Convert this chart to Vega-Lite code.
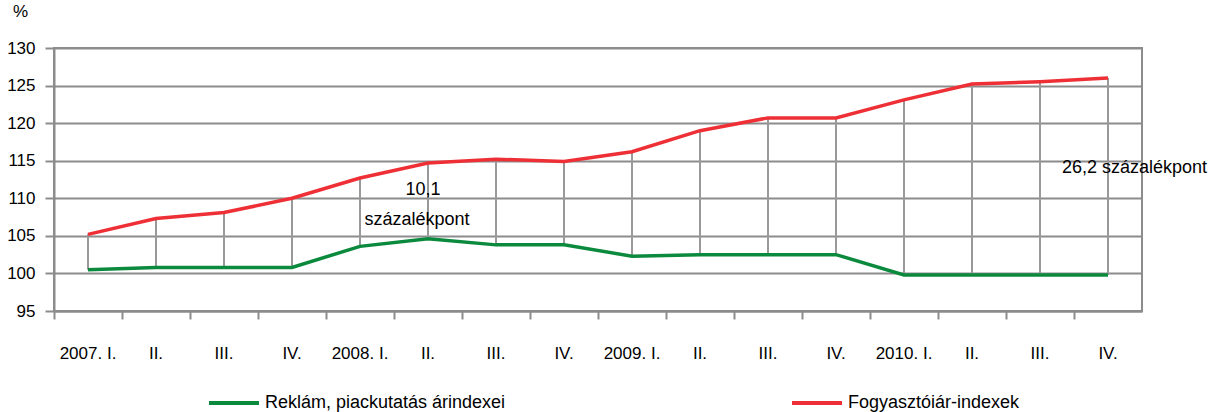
{
  "$schema": "https://vega.github.io/schema/vega-lite/v6.json",
  "width": 1088,
  "height": 263,
  "autosize": {"type": "none"},
  "padding": {"left": 54, "top": 48, "right": 70, "bottom": 101},
  "background": "white",
  "config": {
    "font": "Liberation Sans",
    "view": {"stroke": "#8c8c8c", "strokeWidth": 2},
    "axis": {"labelFont": "Liberation Sans", "titleFont": "Liberation Sans"},
    "axisY": {
      "labelOverlap": false,
      "titleAngle": 0,
      "titleFontSize": 17,
      "titleFontWeight": "normal",
      "titleColor": "#000000",
      "titleX": -34,
      "titleY": -28,
      "titleAlign": "center",
      "labelFontSize": 17,
      "labelColor": "#000000",
      "labelPadding": 10,
      "tickSize": 9,
      "tickColor": "#8c8c8c",
      "tickWidth": 2,
      "domainColor": "#8c8c8c",
      "domainWidth": 2,
      "grid": true,
      "gridColor": "#8c8c8c",
      "gridWidth": 2
    },
    "legend": {"labelFont": "Liberation Sans", "padding": 0}
  },
  "data": {
    "values": [
      {"negyedev": "2007. I.", "Reklám, piackutatás árindexei": 100.5, "Fogyasztóiár-indexek": 105.2},
      {"negyedev": "2007. II.", "Reklám, piackutatás árindexei": 100.8, "Fogyasztóiár-indexek": 107.3},
      {"negyedev": "2007. III.", "Reklám, piackutatás árindexei": 100.8, "Fogyasztóiár-indexek": 108.1},
      {"negyedev": "2007. IV.", "Reklám, piackutatás árindexei": 100.8, "Fogyasztóiár-indexek": 110.0},
      {"negyedev": "2008. I.", "Reklám, piackutatás árindexei": 103.6, "Fogyasztóiár-indexek": 112.7},
      {"negyedev": "2008. II.", "Reklám, piackutatás árindexei": 104.6, "Fogyasztóiár-indexek": 114.7},
      {"negyedev": "2008. III.", "Reklám, piackutatás árindexei": 103.8, "Fogyasztóiár-indexek": 115.2},
      {"negyedev": "2008. IV.", "Reklám, piackutatás árindexei": 103.8, "Fogyasztóiár-indexek": 114.9},
      {"negyedev": "2009. I.", "Reklám, piackutatás árindexei": 102.3, "Fogyasztóiár-indexek": 116.2},
      {"negyedev": "2009. II.", "Reklám, piackutatás árindexei": 102.5, "Fogyasztóiár-indexek": 119.0},
      {"negyedev": "2009. III.", "Reklám, piackutatás árindexei": 102.5, "Fogyasztóiár-indexek": 120.7},
      {"negyedev": "2009. IV.", "Reklám, piackutatás árindexei": 102.5, "Fogyasztóiár-indexek": 120.7},
      {"negyedev": "2010. I.", "Reklám, piackutatás árindexei": 99.8, "Fogyasztóiár-indexek": 123.1},
      {"negyedev": "2010. II.", "Reklám, piackutatás árindexei": 99.8, "Fogyasztóiár-indexek": 125.2},
      {"negyedev": "2010. III.", "Reklám, piackutatás árindexei": 99.8, "Fogyasztóiár-indexek": 125.5},
      {"negyedev": "2010. IV.", "Reklám, piackutatás árindexei": 99.8, "Fogyasztóiár-indexek": 126.0}
    ]
  },
  "encoding": {
    "x": {
      "field": "negyedev",
      "type": "ordinal",
      "sort": null,
      "scale": {"paddingInner": 0, "paddingOuter": 0},
      "axis": {
        "title": null,
        "labelAngle": 0,
        "labelExpr": "indexof(datum.label, '. I.') >= 0 ? datum.label : split(datum.label, ' ')[1]",
        "labelFontSize": 17,
        "labelColor": "#000000",
        "labelPadding": 34,
        "labelBaseline": "middle",
        "bandPosition": 0,
        "tickSize": 8,
        "tickColor": "#8c8c8c",
        "tickWidth": 2,
        "domainColor": "#8c8c8c",
        "domainWidth": 2,
        "grid": false
      }
    }
  },
  "layer": [
    {
      "mark": {"type": "rule", "color": "#999999", "strokeWidth": 2},
      "encoding": {
        "y": {
          "field": "Reklám, piackutatás árindexei",
          "type": "quantitative",
          "title": "%",
          "scale": {"domain": [95, 130], "nice": false, "zero": false},
          "axis": {"values": [95, 100, 105, 110, 115, 120, 125, 130]}
        },
        "y2": {"field": "Fogyasztóiár-indexek"}
      }
    },
    {
      "transform": [
        {"fold": ["Reklám, piackutatás árindexei", "Fogyasztóiár-indexek"], "as": ["sorozat", "ertek"]}
      ],
      "mark": {"type": "line", "strokeWidth": 3.5},
      "encoding": {
        "y": {
          "field": "ertek",
          "type": "quantitative",
          "title": "%",
          "scale": {"domain": [95, 130], "nice": false, "zero": false},
          "axis": {"values": [95, 100, 105, 110, 115, 120, 125, 130]}
        },
        "color": {
          "field": "sorozat",
          "type": "nominal",
          "sort": ["Reklám, piackutatás árindexei", "Fogyasztóiár-indexek"],
          "scale": {
            "domain": ["Reklám, piackutatás árindexei", "Fogyasztóiár-indexek"],
            "range": ["#0b8a3e", "#ee3036"]
          },
          "legend": {
            "title": null,
            "orient": "none",
            "legendX": 153,
            "legendY": 328,
            "direction": "horizontal",
            "symbolType": "stroke",
            "symbolSize": 2500,
            "symbolStrokeWidth": 4,
            "labelFontSize": 18,
            "labelLimit": 0,
            "labelColor": "#000000",
            "labelOffset": 4,
            "columnPadding": 278
          }
        }
      }
    },
    {
      "transform": [{"filter": "datum.negyedev === '2008. II.'"}],
      "mark": {"type": "text", "fontSize": 18, "color": "#000000", "align": "center", "dx": -5},
      "encoding": {
        "y": {"datum": 111.1, "title": "%", "axis": {"values": [95, 100, 105, 110, 115, 120, 125, 130]}},
        "text": {"value": "10,1"}
      }
    },
    {
      "transform": [{"filter": "datum.negyedev === '2008. II.'"}],
      "mark": {"type": "text", "fontSize": 18, "color": "#000000", "align": "center", "dx": -11},
      "encoding": {
        "y": {"datum": 107.1, "title": "%", "axis": {"values": [95, 100, 105, 110, 115, 120, 125, 130]}},
        "text": {"value": "százalékpont"}
      }
    },
    {
      "transform": [{"filter": "datum.negyedev === '2010. IV.'"}],
      "mark": {"type": "text", "fontSize": 18, "color": "#000000", "align": "left", "dx": -46},
      "encoding": {
        "y": {"datum": 114.0, "title": "%", "axis": {"values": [95, 100, 105, 110, 115, 120, 125, 130]}},
        "text": {"value": "26,2 százalékpont"}
      }
    }
  ]
}
